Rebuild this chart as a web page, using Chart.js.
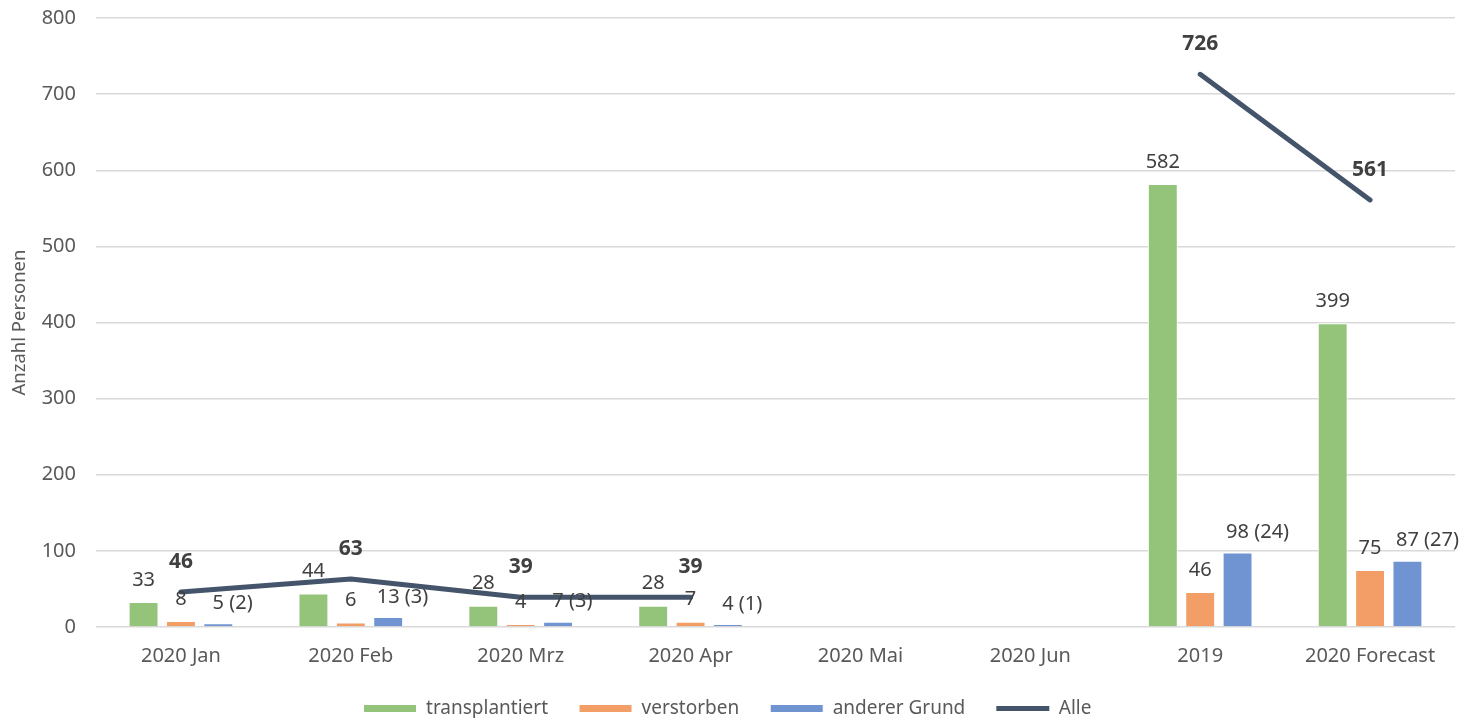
<!DOCTYPE html>
<html>
<head>
<meta charset="utf-8">
<script src="https://cdn.jsdelivr.net/npm/chart.js@4/dist/chart.umd.min.js"></script>
<style>
  html, body { margin: 0; padding: 0; background: #fff; }
  #wrap { width: 1472px; height: 718px; }
</style>
</head>
<body>
<div id="wrap"><canvas id="chart"></canvas></div>
<script>
// categories and values
const categories = ['2020 Jan', '2020 Feb', '2020 Mrz', '2020 Apr', '2020 Mai', '2020 Jun', '2019', '2020 Forecast'];
const transplantiert = [33, 44, 28, 28, null, null, 582, 399];
const verstorben = [8, 6, 4, 7, null, null, 46, 75];
const andererGrund = [5, 13, 7, 4, null, null, 98, 87];
const andererGrundNote = [2, 3, 3, 1, null, null, 24, 27];
const alle = [46, 63, 39, 39, null, null, 726, 561];
const yTicks = [0, 100, 200, 300, 400, 500, 600, 700, 800];

const FONT = "'Noto Sans', 'Liberation Sans', sans-serif";
const TEXT = '#595959';
const LABEL = '#404040';

// draws the value labels above bars and line points
const valueLabels = {
    id: 'valueLabels',
    afterDatasetsDraw(chart) {
        const ctx = chart.ctx;
        ctx.save();
        ctx.fillStyle = LABEL;
        chart.data.datasets.forEach((ds, i) => {
            const meta = chart.getDatasetMeta(i);
            meta.data.forEach((el, j) => {
                const v = ds.data[j];
                if (v == null) return;
                const num = String(v);
                if (ds.type === 'line') {
                    ctx.font = 'bold 21px ' + FONT;
                    ctx.textAlign = 'center';
                    ctx.textBaseline = 'middle';
                    ctx.fillText(num, el.x, el.y - 30);
                    return;
                }
                ctx.font = '20px ' + FONT;
                ctx.textBaseline = 'middle';
                if (ds.label === 'anderer Grund') {
                    const w = ctx.measureText(num).width;
                    ctx.textAlign = 'left';
                    ctx.fillText(num + ' (' + andererGrundNote[j] + ')', el.x - w / 2, el.y - 20);
                } else {
                    ctx.textAlign = 'center';
                    ctx.fillText(num, el.x, el.y - 22);
                }
            });
        });
        ctx.restore();
    }
};

// keeps the legend short (wide item spacing without a tall legend box)
const legendFit = {
    id: 'legendFit',
    beforeLayout(chart) {
        const lg = chart.legend;
        if (lg && !lg._fitPatched) {
            const fit = lg.fit;
            lg.fit = function () {
                fit.call(this);
                this.height = 41;
            };
            const draw = lg._draw;
            lg._draw = function () {
                this.top -= 9;
                draw.call(this);
                this.top += 9;
            };
            lg._fitPatched = true;
        }
    }
};

const barStyle = {
    borderColor: '#ffffff',
    borderWidth: 1,
    categoryPercentage: 0.66,
    barPercentage: 0.8,
    pointStyle: 'rect',
    order: 1
};

new Chart(document.getElementById('chart'), {
    type: 'bar',
    data: {
        labels: categories,
        datasets: [
            Object.assign({ label: 'transplantiert', data: transplantiert, backgroundColor: '#93c47a' }, barStyle),
            Object.assign({ label: 'verstorben', data: verstorben, backgroundColor: '#f29e66' }, barStyle),
            Object.assign({ label: 'anderer Grund', data: andererGrund, backgroundColor: '#7094d1' }, barStyle),
            {
                type: 'line',
                label: 'Alle',
                data: alle,
                borderColor: '#44546a',
                backgroundColor: '#44546a',
                borderWidth: 5,
                borderCapStyle: 'round',
                borderJoinStyle: 'round',
                pointRadius: 0,
                pointStyle: 'line',
                spanGaps: false,
                order: 0
            }
        ]
    },
    options: {
        responsive: true,
        maintainAspectRatio: false,
        animation: false,
        layout: { padding: { top: 0, right: 17, left: 0, bottom: 0 } },
        scales: {
            x: {
                grid: { display: false },
                border: { display: false },
                ticks: { color: TEXT, font: { family: FONT, size: 20 }, padding: 9 },
                afterFit(scale) { scale.height = 50; }
            },
            y: {
                min: 0,
                max: 800,
                afterBuildTicks(scale) { scale.ticks = yTicks.map(v => ({ value: v })); },
                grid: { color: '#d9d9d9', lineWidth: 1.5, drawTicks: true, tickLength: 14, tickColor: 'rgba(0,0,0,0)' },
                border: { display: false },
                ticks: { color: TEXT, font: { family: FONT, size: 20 }, padding: 6 },
                title: { display: true, text: 'Anzahl Personen', color: TEXT, font: { family: FONT, size: 18.5 }, padding: { top: 9, bottom: 0 } },
                afterFit(scale) { scale.width = 96; }
            }
        },
        plugins: {
            legend: {
                position: 'bottom',
                labels: {
                    color: TEXT,
                    font: { family: FONT, size: 19 },
                    usePointStyle: true,
                    pointStyleWidth: 53,
                    boxHeight: 8,
                    padding: 31,
                    sort: (a, b) => a.datasetIndex - b.datasetIndex
                }
            },
            tooltip: { enabled: false }
        }
    },
    plugins: [valueLabels, legendFit]
});
</script>
</body>
</html>
